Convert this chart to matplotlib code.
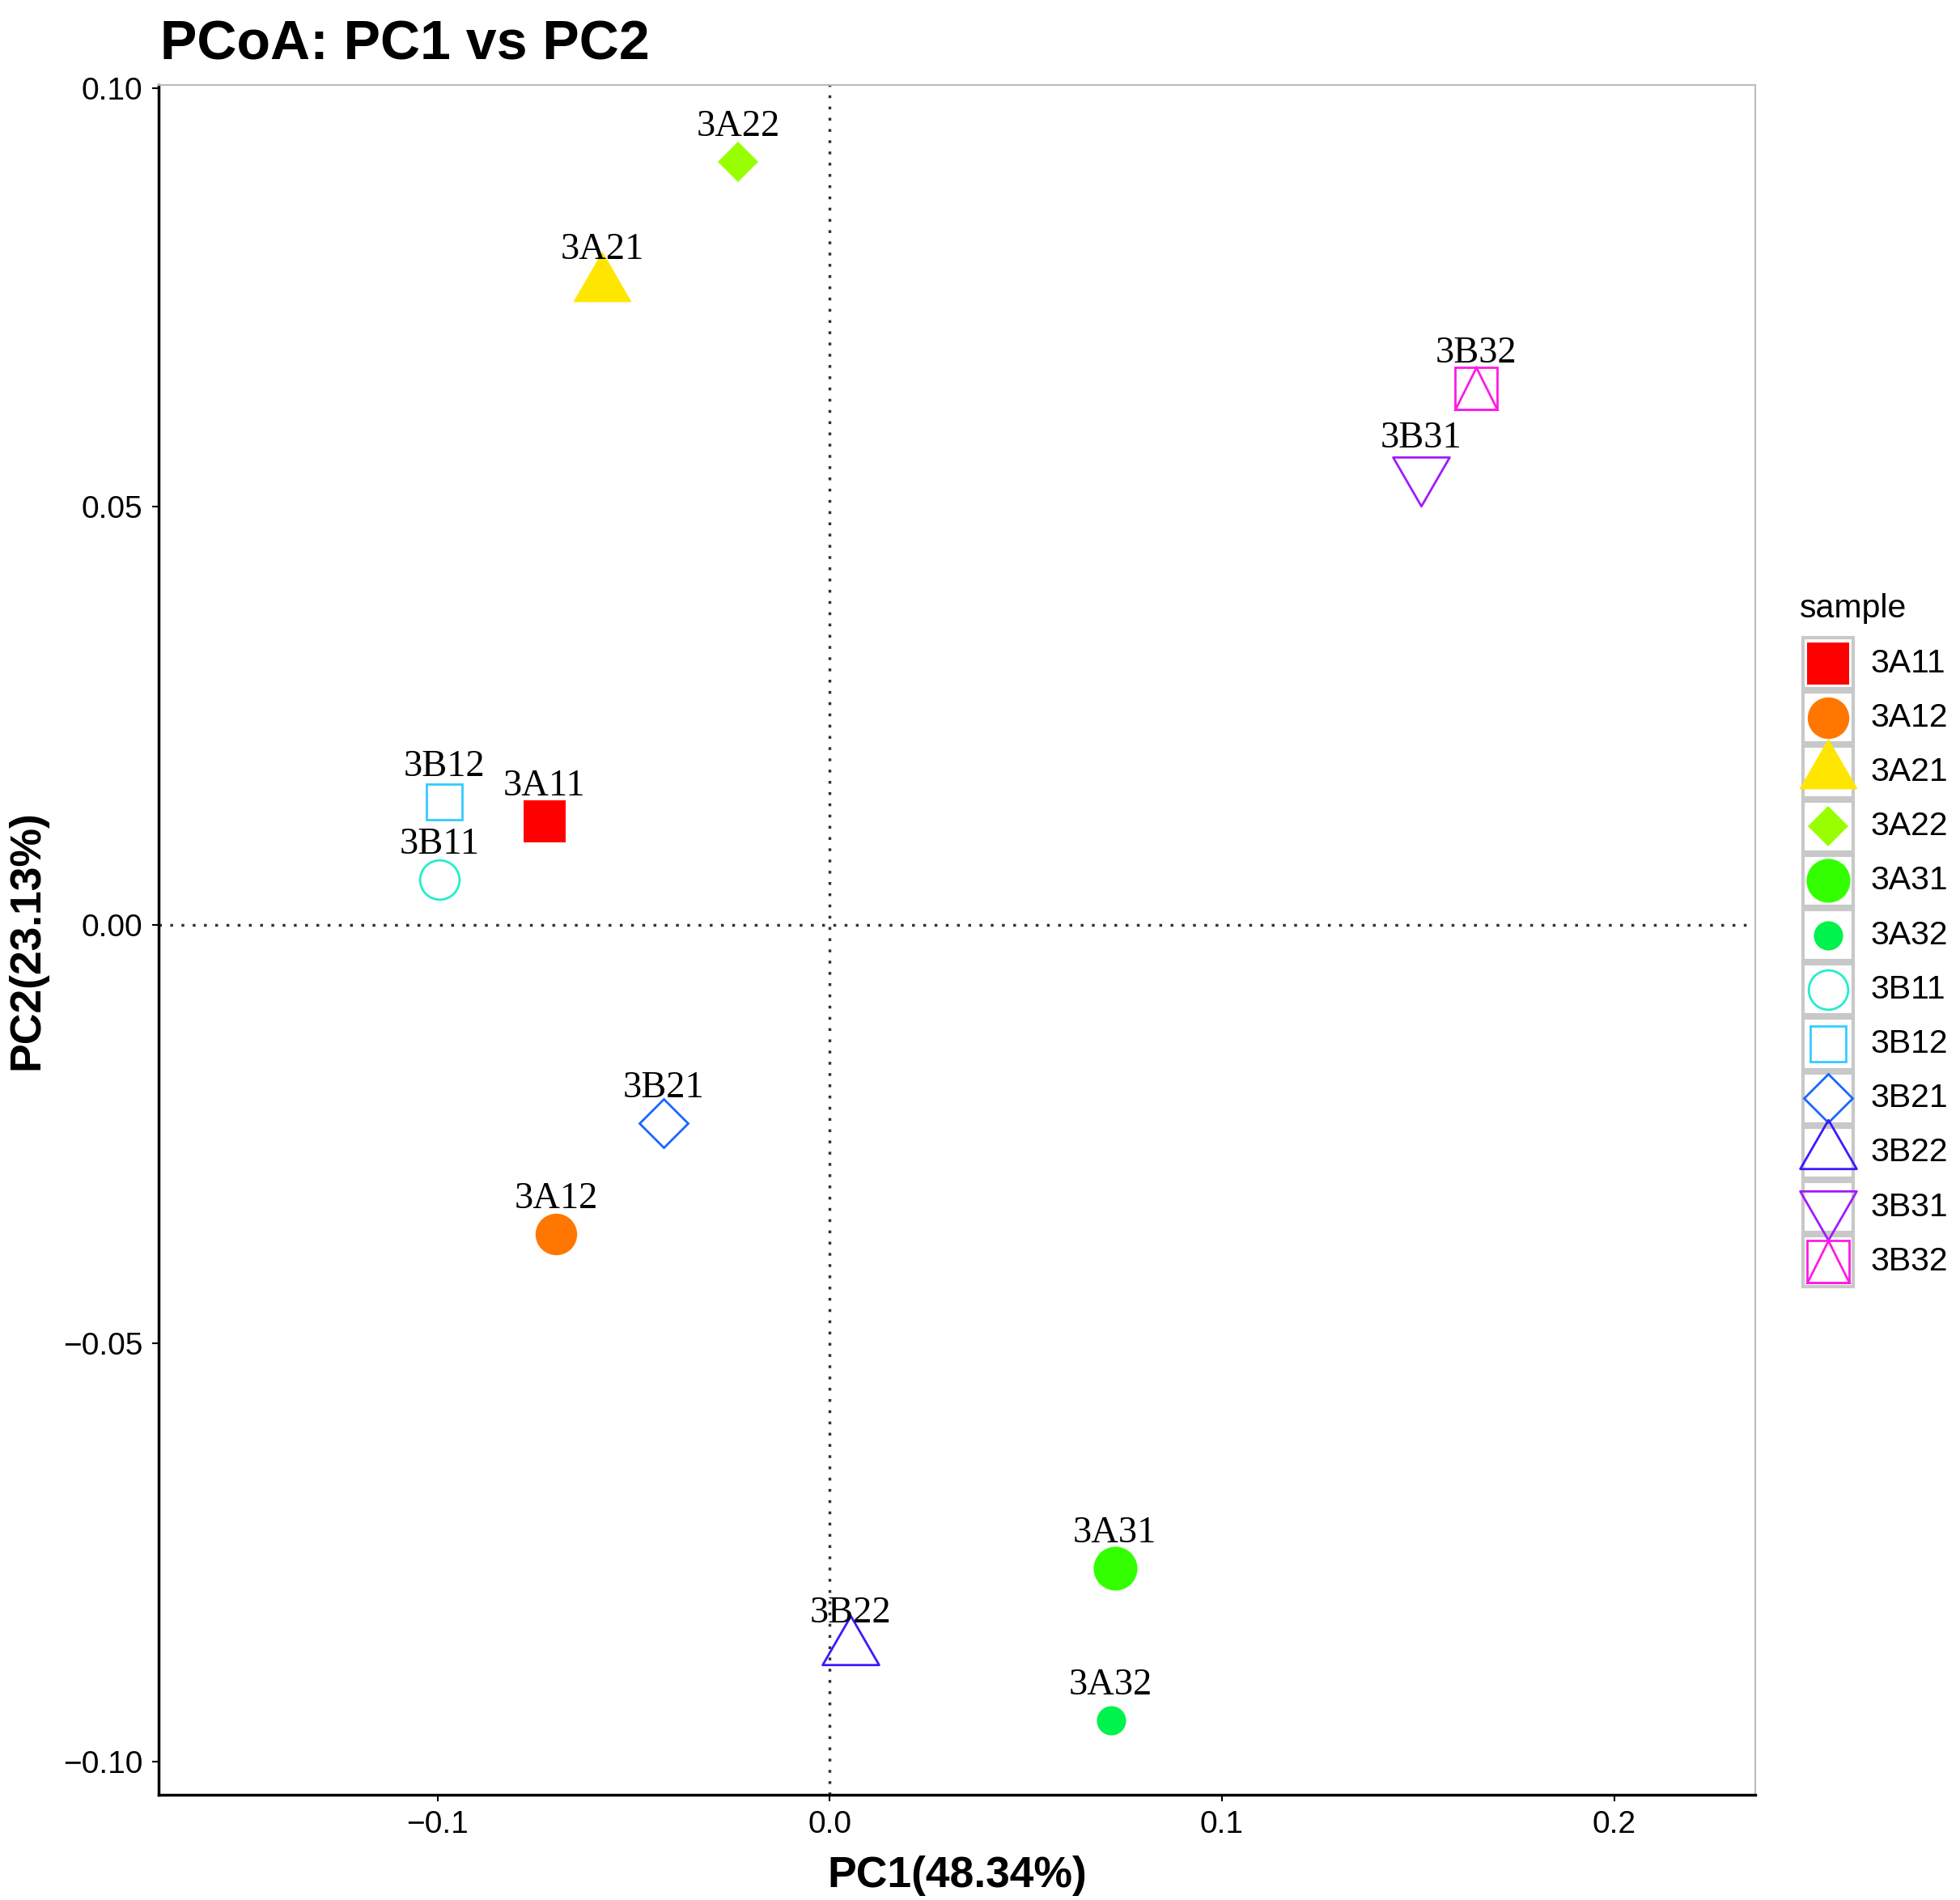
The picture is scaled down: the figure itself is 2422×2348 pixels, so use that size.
import numpy as np
import matplotlib
matplotlib.use("Agg")
import matplotlib.pyplot as plt
from matplotlib.path import Path
from matplotlib.patches import Rectangle

# sample coordinates
samples = ["3A11", "3A12", "3A21", "3A22", "3A31", "3A32",
           "3B11", "3B12", "3B21", "3B22", "3B31", "3B32"]
pc1 = [-0.0727, -0.0698, -0.0580, -0.0233, 0.0727, 0.0717,
       -0.0995, -0.0982, -0.0424, 0.0054, 0.1508, 0.1648]
pc2 = [0.0124, -0.0370, 0.0765, 0.0912, -0.0769, -0.0951,
       0.0054, 0.0147, -0.0237, -0.0865, 0.0540, 0.0641]
colors = ["#FF0000", "#FF7700", "#FFE600", "#99FF00", "#33FF00", "#00F24D",
          "#22EECC", "#33CCFF", "#1A66FF", "#3A1AFF", "#A01AFF", "#FF1AE6"]

x_ticks = [-0.1, 0.0, 0.1, 0.2]
x_ticklabels = ["\u22120.1", "0.0", "0.1", "0.2"]
y_ticks = [-0.10, -0.05, 0.00, 0.05, 0.10]
y_ticklabels = ["\u22120.10", "\u22120.05", "0.00", "0.05", "0.10"]

# equilateral triangles centred on their centroid
tri_up = Path([(0, 0.577), (-0.5, -0.289), (0.5, -0.289), (0, 0.577)], closed=True)
tri_down = Path([(0, -0.577), (-0.5, 0.289), (0.5, 0.289), (0, -0.577)], closed=True)

# (marker, size, filled) per sample
shapes = [("s", 37, True), ("o", 37, True), (tri_up, 60, True), ("D", 25, True),
          ("o", 39, True), ("o", 26, True), ("o", 37, False), ("s", 33, False),
          ("D", 33, False), (tri_up, 60, False), (tri_down, 60, False), ("s", 39, False)]

sans = ["Liberation Sans", "DejaVu Sans"]
serif = ["Liberation Serif", "DejaVu Serif"]
plt.rcParams["font.family"] = sans

W, H = 2422, 2348
fig = plt.figure(figsize=(W / 100, H / 100), dpi=100)
ax = fig.add_axes([196 / W, 1 - 2218 / H, (2169 - 196) / W, (2218 - 105) / H])


def draw_marker(a, x, y, i, **kw):
    m, ms, filled = shapes[i]
    c = colors[i]
    if filled:
        a.plot([x], [y], marker=m, ms=ms, mfc=c, mec=c, mew=0, ls="none", **kw)
    else:
        a.plot([x], [y], marker=m, ms=ms - 2, mfc="none", mec=c, mew=2, ls="none", **kw)
        if samples[i] == "3B32":
            a.plot([x], [y], marker="^", ms=ms - 2, mfc="none", mec=c, mew=2, ls="none", **kw)


ax.axvline(0, color="#333333", ls=(0, (1, 3)), lw=2.5, zorder=1)
ax.axhline(0, color="#333333", ls=(0, (1, 3)), lw=2.5, zorder=1)

for i, name in enumerate(samples):
    draw_marker(ax, pc1[i], pc2[i], i, zorder=3)
    ax.annotate(name, (pc1[i], pc2[i]), xytext=(0, 23), textcoords="offset points",
                ha="center", va="baseline", fontsize=33.5, family=serif, zorder=4)

ax.set_xlim(-0.1711, 0.2360)
ax.set_ylim(-0.1040, 0.1004)
ax.set_xticks(x_ticks)
ax.set_xticklabels(x_ticklabels)
ax.set_yticks(y_ticks)
ax.set_yticklabels(y_ticklabels)
ax.tick_params(labelsize=28, length=6, width=1.5, pad=8, colors="black")

for s in ["left", "bottom"]:
    ax.spines[s].set_color("black")
    ax.spines[s].set_linewidth(2.5)
for s in ["top", "right"]:
    ax.spines[s].set_color("#BBBBBB")
    ax.spines[s].set_linewidth(1.5)

ax.set_xlabel("PC1(48.34%)", fontsize=38.5, fontweight="bold", labelpad=14)
ax.set_ylabel("PC2(23.13%)", fontsize=38.5, fontweight="bold", labelpad=14)

fig.text(198 / W, 1 - 73 / H, "PCoA: PC1 vs PC2", fontsize=49, fontweight="bold",
         ha="left", va="baseline")

# legend drawn as a small axes with one key per sample
key_top, key_h = 786, 67.2
lax = fig.add_axes([2226 / W, 1 - (key_top + 12 * key_h) / H, 66 / W, 12 * key_h / H])
lax.set_xlim(0, 1)
lax.set_ylim(12, 0)
lax.axis("off")
for i, name in enumerate(samples):
    lax.add_patch(Rectangle((0.03, i + 0.03), 0.94, 0.94, facecolor="white",
                            edgecolor="#C8C8C8", lw=3, clip_on=False))
    draw_marker(lax, 0.5, i + 0.5, i, clip_on=False, zorder=3)
    lax.text(1.30, i + 0.5, name, fontsize=29.5, va="center", ha="left")
lax.text(-0.03, -0.34, "sample", fontsize=29.5, va="baseline", ha="left")

fig.savefig("out.png", dpi=100, facecolor="white")
